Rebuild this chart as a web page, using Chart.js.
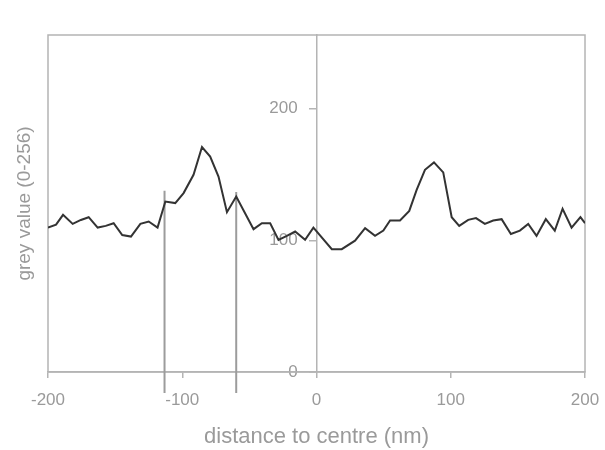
<!DOCTYPE html>
<html>
<head>
<meta charset="utf-8">
<script src="https://cdn.jsdelivr.net/npm/chart.js@4"></script>
<style>
    html, body { margin: 0; padding: 0; background: #ffffff; }
    #wrap { width: 605px; height: 450px; }
</style>
</head>
<body>
<div id="wrap"><canvas id="profile-chart" width="605" height="450"></canvas></div>
<script>
// 数据
const distance = [-200, -194, -188.8, -181.6, -175.5, -169.7, -163, -157, -151.1, -144.7, -138.2, -131.2, -125, -118.4,
    -112.6, -105.2, -99, -91.6, -85.3, -79.2, -73, -66.7, -59.8, -53.9, -46.9, -40.7, -34.5, -28.3, -22.1, -15.9,
    -8.5, -2.3, 11.4, 18.8, 28.7, 36.2, 43.6, 49.8, 54.8, 62.2, 69.1, 74.6, 80.8, 87.5, 94.4, 100.7, 106.3, 113,
    118.8, 125.4, 131.6, 137.9, 144.8, 151.5, 157.7, 163.9, 170.8, 177.5, 183.3, 190, 196.6, 200];
const greyValue = [109.7, 112, 119.4, 112.5, 115.5, 117.6, 109.7, 111, 113, 104, 102.9, 112.5, 114.3, 109.7,
    129.5, 128.3, 135.9, 149.8, 170.9, 163.7, 148.5, 121.4, 133.3, 121.9, 108.5, 113, 113, 100.4, 103.4, 106.7,
    100.4, 109.7, 93.3, 93.3, 99.8, 109.3, 103.4, 107.4, 115.1, 115.1, 122.4, 138.4, 153.6, 159.2, 151.6, 117.6,
    111, 115.6, 116.9, 112.5, 115.1, 116.1, 104.9, 107.4, 112.5, 103.4, 116.1, 107.4, 124, 109.7, 117.6, 113];

// 两条标记竖线
const markerX = [-113.2, -59.8];
const markerTop = [137.6, 136.7];
const markerBottom = -16;

const xTicks = [-200, -100, 0, 100, 200];
const yTicks = [0, 100, 200];

const axisColor = '#b4b4b4';
const textColor = '#9a9a9a';

const profilePoints = distance.map((d, i) => ({ x: d, y: greyValue[i] }));

const datasets = [{
    label: 'grey value',
    data: profilePoints,
    borderColor: '#333333',
    borderWidth: 2,
    pointRadius: 0,
    tension: 0,
    fill: false
}];

markerX.forEach((mx, i) => {
    datasets.push({
        label: 'marker ' + (i + 1),
        data: [{ x: mx, y: markerTop[i] }, { x: mx, y: markerBottom }],
        borderColor: '#9c9c9c',
        borderWidth: 2,
        pointRadius: 0,
        clip: false
    });
});

// 外框
const framePlugin = {
    id: 'frame',
    beforeDatasetsDraw(chart) {
        const { ctx, chartArea } = chart;
        ctx.save();
        ctx.strokeStyle = axisColor;
        ctx.lineWidth = 1.5;
        ctx.strokeRect(chartArea.left, chartArea.top, chartArea.right - chartArea.left, chartArea.bottom - chartArea.top);
        ctx.restore();
    }
};

new Chart(document.getElementById('profile-chart').getContext('2d'), {
    type: 'line',
    data: { datasets: datasets },
    options: {
        responsive: false,
        animation: false,
        events: [],
        layout: { padding: { top: 35, right: 20, bottom: 0, left: 0 } },
        plugins: {
            legend: { display: false },
            tooltip: { enabled: false }
        },
        scales: {
            x: {
                type: 'linear',
                position: 'bottom',
                min: -200,
                max: 200,
                afterBuildTicks(scale) {
                    scale.ticks = xTicks.map(v => ({ value: v }));
                },
                afterFit(scale) {
                    scale.height = 78;
                    scale.paddingLeft = 0;
                    scale.paddingRight = 0;
                },
                grid: { display: true, drawOnChartArea: false, drawTicks: true, tickLength: 6, color: axisColor, lineWidth: 1.5 },
                border: { display: true, color: axisColor, width: 1.5 },
                ticks: { color: textColor, padding: 12, maxRotation: 0, font: { family: 'Liberation Sans', size: 17 } },
                title: {
                    display: true,
                    text: 'distance to centre (nm)',
                    color: textColor,
                    font: { family: 'Liberation Sans', size: 22 },
                    padding: { top: 0, bottom: 0 }
                }
            },
            y: {
                type: 'linear',
                position: { x: 0 },
                min: 0,
                max: 256,
                afterBuildTicks(scale) {
                    scale.ticks = yTicks.map(v => ({ value: v }));
                },
                grid: { display: true, drawOnChartArea: false, drawTicks: true, tickLength: 7, color: axisColor, lineWidth: 1.5 },
                border: { display: true, color: axisColor, width: 1.5 },
                // 居中的轴标签贴在轴上，用尾部空格让出刻度线的位置
                ticks: {
                    color: textColor,
                    font: { family: 'Liberation Sans', size: 17 },
                    callback: v => v + '    '
                }
            },
            yTitle: {
                type: 'linear',
                position: 'left',
                min: 0,
                max: 256,
                afterFit(scale) {
                    scale.width = 48;
                },
                grid: { display: false },
                border: { display: false },
                ticks: { display: false },
                title: {
                    display: true,
                    text: 'grey value (0-256)',
                    color: textColor,
                    font: { family: 'Liberation Sans', size: 19 },
                    padding: { top: 13, bottom: 0 }
                }
            }
        }
    },
    plugins: [framePlugin]
});
</script>
</body>
</html>
